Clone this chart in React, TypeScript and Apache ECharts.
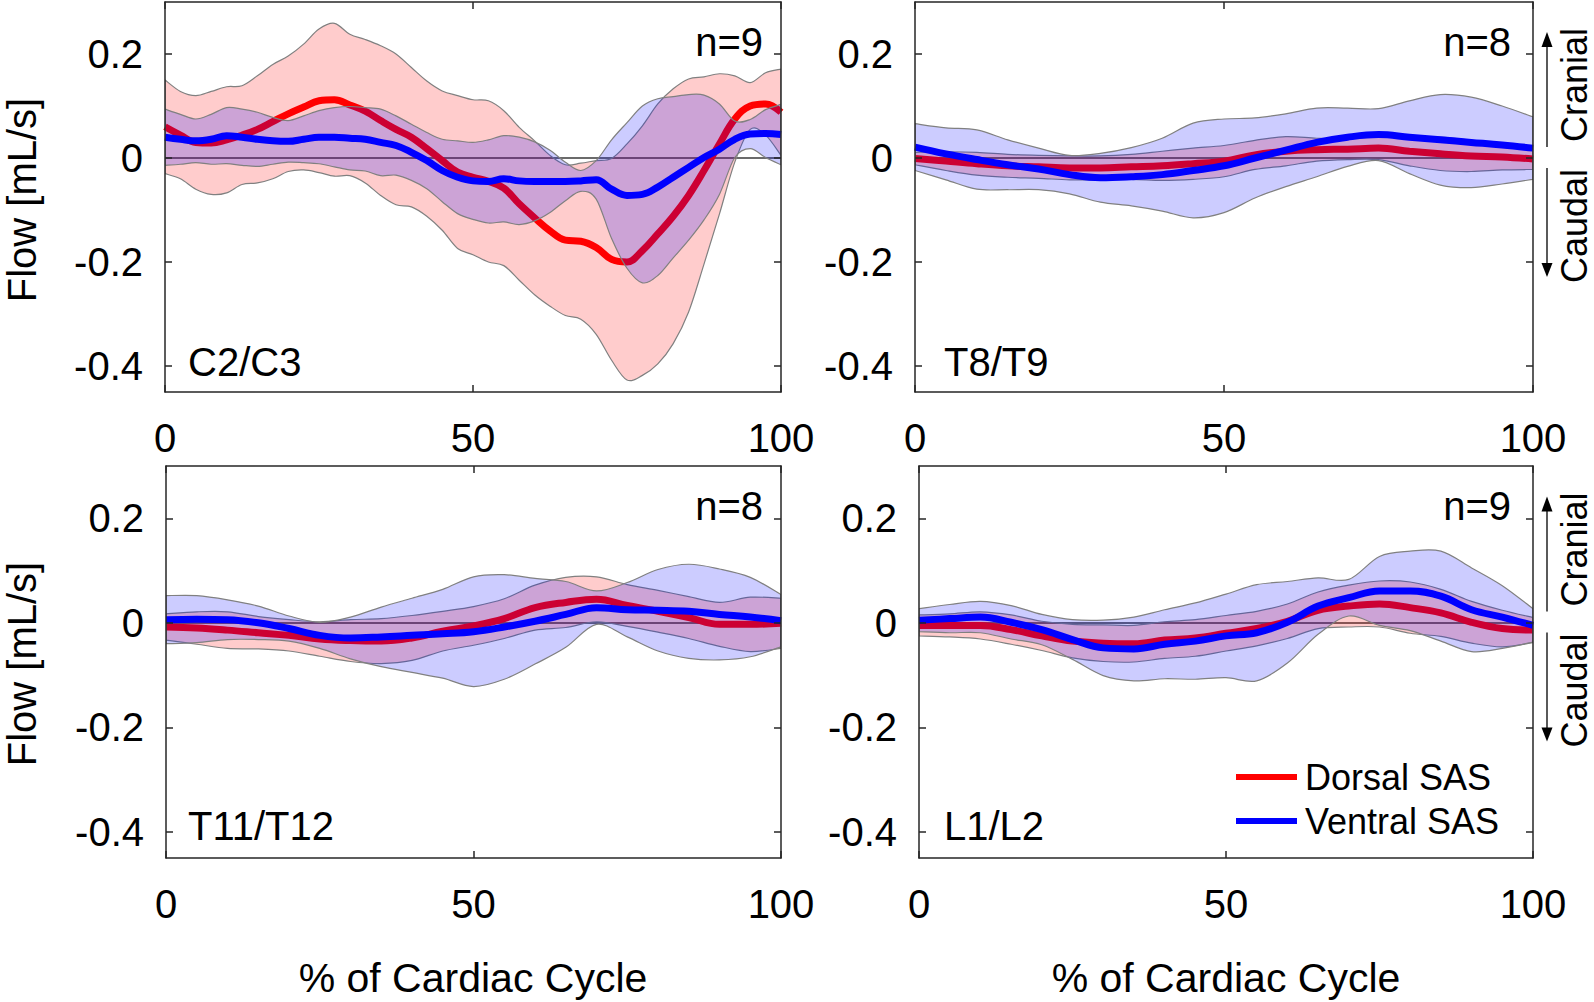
import React, { useEffect, useRef } from 'react';
import * as echarts from 'echarts';

const FONT = '"Liberation Sans", Arial, Helvetica, sans-serif';

// x positions (% of cardiac cycle)
const X_C2C3 = [0, 2.5, 5, 7.5, 10, 12.5, 15, 17.5, 20, 22.5, 25, 27.5, 30, 32.5, 35, 37.5, 40, 42.5, 45, 47.5, 50,
  52.5, 55, 57.5, 60, 62.5, 65, 67.5, 70, 72.5, 75, 77.5, 80, 82.5, 85, 87.5, 90, 92.5, 95, 97.5, 100];
const X_STEP5 = [0, 5, 10, 15, 20, 25, 30, 35, 40, 45, 50, 55, 60, 65, 70, 75, 80, 85, 90, 95, 100];

const Y_TICKS = [-0.4, -0.2, 0, 0.2];

// C2/C3 (mean and SD, mL/s)
const C23_DORSAL_MEAN = [0.060, 0.044, 0.030, 0.029, 0.035, 0.044, 0.055, 0.070, 0.085, 0.098, 0.110, 0.112, 0.102, 0.090,
  0.072, 0.055, 0.040, 0.018, -0.005, -0.027, -0.037, -0.045, -0.058, -0.088, -0.115, -0.140, -0.158, -0.160, -0.172,
  -0.195, -0.200, -0.178, -0.146, -0.112, -0.072, -0.024, 0.027, 0.075, 0.100, 0.104, 0.088];
const C23_DORSAL_SD = [0.090, 0.084, 0.090, 0.099, 0.102, 0.095, 0.103, 0.110, 0.111, 0.121, 0.138, 0.147, 0.136, 0.138,
  0.144, 0.145, 0.134, 0.130, 0.134, 0.147, 0.149, 0.155, 0.149, 0.147, 0.148, 0.145, 0.145, 0.150, 0.167, 0.194, 0.227,
  0.240, 0.250, 0.245, 0.224, 0.180, 0.135, 0.083, 0.045, 0.060, 0.083];
const C23_VENTRAL_MEAN = [0.040, 0.036, 0.033, 0.036, 0.043, 0.040, 0.036, 0.033, 0.032, 0.036, 0.040, 0.040, 0.038, 0.036,
  0.030, 0.024, 0.011, -0.005, -0.024, -0.037, -0.044, -0.045, -0.040, -0.044, -0.045, -0.045, -0.045, -0.044, -0.042,
  -0.060, -0.072, -0.070, -0.056, -0.037, -0.018, 0.001, 0.017, 0.036, 0.046, 0.047, 0.045];
const C23_VENTRAL_SD = [0.054, 0.048, 0.042, 0.048, 0.054, 0.054, 0.052, 0.045, 0.040, 0.045, 0.051, 0.057, 0.061, 0.061,
  0.064, 0.057, 0.054, 0.054, 0.060, 0.070, 0.074, 0.080, 0.083, 0.084, 0.076, 0.060, 0.037, 0.020, 0.037, 0.095, 0.140,
  0.170, 0.170, 0.155, 0.140, 0.120, 0.087, 0.035, 0.028, 0.046, 0.058];

// T8/T9
const T89_DORSAL_MEAN = [-0.001, -0.006, -0.011, -0.015, -0.017, -0.019, -0.019, -0.017, -0.015, -0.011, -0.006, 0.006,
  0.013, 0.016, 0.017, 0.019, 0.013, 0.008, 0.004, 0.002, -0.002];
const T89_DORSAL_SD = [0.012, 0.018, 0.022, 0.022, 0.022, 0.023, 0.023, 0.024, 0.028, 0.030, 0.030, 0.028, 0.028, 0.022,
  0.020, 0.022, 0.028, 0.032, 0.030, 0.025, 0.020];
const T89_VENTRAL_MEAN = [0.021, 0.008, -0.003, -0.013, -0.021, -0.032, -0.038, -0.036, -0.032, -0.024, -0.015, 0.000,
  0.015, 0.030, 0.040, 0.045, 0.040, 0.035, 0.030, 0.025, 0.019];
const T89_VENTRAL_SD = [0.045, 0.050, 0.057, 0.048, 0.040, 0.037, 0.047, 0.056, 0.070, 0.091, 0.090, 0.077, 0.070, 0.066,
  0.056, 0.050, 0.070, 0.087, 0.087, 0.075, 0.060];

// T11/T12
const T1112_DORSAL_MEAN = [-0.008, -0.010, -0.014, -0.019, -0.024, -0.031, -0.034, -0.035, -0.029, -0.016, -0.006, 0.008,
  0.029, 0.039, 0.045, 0.033, 0.022, 0.010, -0.003, -0.003, -0.001];
const T1112_DORSAL_SD = [0.025, 0.031, 0.035, 0.031, 0.030, 0.033, 0.040, 0.043, 0.043, 0.038, 0.037, 0.038, 0.043, 0.048,
  0.043, 0.040, 0.040, 0.040, 0.042, 0.052, 0.048];
const T1112_VENTRAL_MEAN = [0.006, 0.007, 0.006, 0.000, -0.011, -0.024, -0.029, -0.027, -0.024, -0.021, -0.017, -0.008,
  0.003, 0.016, 0.029, 0.025, 0.024, 0.022, 0.016, 0.011, 0.004];
const T1112_VENTRAL_SD = [0.046, 0.045, 0.038, 0.032, 0.024, 0.025, 0.040, 0.057, 0.071, 0.085, 0.105, 0.100, 0.082, 0.063,
  0.032, 0.052, 0.078, 0.090, 0.087, 0.076, 0.050];

// L1/L2
const L12_DORSAL_MEAN = [-0.005, -0.005, -0.005, -0.013, -0.025, -0.035, -0.039, -0.040, -0.033, -0.029, -0.020, -0.011,
  0.003, 0.024, 0.032, 0.036, 0.029, 0.019, 0.001, -0.011, -0.014];
const L12_DORSAL_SD = [0.020, 0.022, 0.026, 0.028, 0.028, 0.032, 0.035, 0.035, 0.035, 0.035, 0.034, 0.033, 0.033, 0.035,
  0.040, 0.044, 0.049, 0.045, 0.040, 0.035, 0.024];
const L12_VENTRAL_MEAN = [0.005, 0.008, 0.011, 0.001, -0.013, -0.032, -0.048, -0.050, -0.041, -0.035, -0.025, -0.019,
  0.001, 0.032, 0.048, 0.061, 0.061, 0.051, 0.025, 0.011, -0.005];
const L12_VENTRAL_SD = [0.022, 0.027, 0.030, 0.032, 0.029, 0.038, 0.053, 0.061, 0.066, 0.073, 0.080, 0.092, 0.078, 0.054,
  0.035, 0.066, 0.076, 0.086, 0.080, 0.060, 0.032];

const LEVEL_LABELS = ['C2/C3', 'T8/T9', 'T11/T12', 'L1/L2'];
const N_LABELS = ['n=9', 'n=8', 'n=8', 'n=9'];
const SERIES_NAMES = ['Dorsal SAS', 'Ventral SAS'];

const PANELS = [
  { x: X_C2C3, dm: C23_DORSAL_MEAN, ds: C23_DORSAL_SD, vm: C23_VENTRAL_MEAN, vs: C23_VENTRAL_SD },
  { x: X_STEP5, dm: T89_DORSAL_MEAN, ds: T89_DORSAL_SD, vm: T89_VENTRAL_MEAN, vs: T89_VENTRAL_SD },
  { x: X_STEP5, dm: T1112_DORSAL_MEAN, ds: T1112_DORSAL_SD, vm: T1112_VENTRAL_MEAN, vs: T1112_VENTRAL_SD },
  { x: X_STEP5, dm: L12_DORSAL_MEAN, ds: L12_DORSAL_SD, vm: L12_VENTRAL_MEAN, vs: L12_VENTRAL_SD },
];

const GRIDS = [
  { left: 165, top: 2, width: 616, height: 390 },
  { left: 915, top: 2, width: 618, height: 390 },
  { left: 166, top: 466, width: 615, height: 392 },
  { left: 919, top: 466, width: 614, height: 392 },
];

const AXIS_COLOR = '#262626';
const EDGE_COLOR = '#808080';
const SMOOTH = 0.4;

// Catmull-Rom spline through already-projected pixel points, as SVG cubic segments.
function splinePath(pts: number[][]): string {
  let d = '';
  const n = pts.length;
  for (let i = 0; i < n - 1; i++) {
    const p0 = pts[Math.max(0, i - 1)];
    const p1 = pts[i];
    const p2 = pts[i + 1];
    const p3 = pts[Math.min(n - 1, i + 2)];
    const c1x = p1[0] + (p2[0] - p0[0]) / 6;
    const c1y = p1[1] + (p2[1] - p0[1]) / 6;
    const c2x = p2[0] - (p3[0] - p1[0]) / 6;
    const c2y = p2[1] - (p3[1] - p1[1]) / 6;
    d += ` C ${c1x.toFixed(2)} ${c1y.toFixed(2)} ${c2x.toFixed(2)} ${c2y.toFixed(2)} ${p2[0].toFixed(2)} ${p2[1].toFixed(2)}`;
  }
  return d;
}

function buildOption() {
  const xAxis: any[] = [];
  const yAxis: any[] = [];
  const series: any[] = [];
  const lineStyle = { color: AXIS_COLOR, width: 1.5 };

  PANELS.forEach((p, i) => {
    const base = {
      type: 'value', gridIndex: i, min: 0, max: 100, interval: 50,
      axisLine: { show: true, onZero: false, lineStyle },
      axisTick: { show: true, inside: true, length: 7, lineStyle },
      splitLine: { show: false },
      z: 10,
    };
    xAxis.push({ ...base, position: 'bottom',
      axisLabel: { fontSize: 40, fontFamily: FONT, color: '#000', margin: 26 } });
    xAxis.push({ ...base, position: 'top', axisLabel: { show: false } });
    const ybase = {
      type: 'value', gridIndex: i, min: -0.45, max: 0.3,
      axisLine: { show: true, onZero: false, lineStyle },
      axisTick: { show: true, inside: true, length: 7, lineStyle, customValues: Y_TICKS },
      splitLine: { show: false },
      z: 10,
    };
    yAxis.push({ ...ybase, position: 'left',
      axisLabel: { customValues: Y_TICKS, formatter: (v: number) => String(v), fontSize: 40,
        fontFamily: FONT, color: '#000', margin: 22 } });
    yAxis.push({ ...ybase, position: 'right', axisLabel: { show: false } });

    const xi = 2 * i;
    const yi = 2 * i;
    const band = (mean: number[], sd: number[], fill: string, z: number) => ({
      type: 'custom', xAxisIndex: xi, yAxisIndex: yi, silent: true, clip: true, z,
      data: [[0, 0]],
      renderItem: (_params: any, api: any) => {
        const up = p.x.map((xx, k) => api.coord([xx, mean[k] + sd[k]]));
        const lo = p.x.map((xx, k) => api.coord([xx, mean[k] - sd[k]])).reverse();
        const d = `M ${up[0][0]} ${up[0][1]}` + splinePath(up) +
          ` L ${lo[0][0]} ${lo[0][1]}` + splinePath(lo) + ' Z';
        return {
          type: 'path',
          shape: { pathData: d },
          style: { fill, stroke: EDGE_COLOR, lineWidth: 1.2 },
        };
      },
    });
    const meanLine = (name: string, mean: number[], color: string, z: number, withZero: boolean) => {
      const s: any = {
        type: 'line', name, xAxisIndex: xi, yAxisIndex: yi, z,
        data: p.x.map((xx, k) => [xx, mean[k]]),
        smooth: SMOOTH, symbol: 'none', silent: true,
        lineStyle: { color, width: 7 }, itemStyle: { color },
      };
      if (withZero) {
        s.markLine = {
          silent: true, z: 0.5, symbol: ['none', 'none'], label: { show: false },
          lineStyle: { color: '#3a3a3a', width: 1.5, type: 'solid' },
          data: [{ yAxis: 0 }],
        };
      }
      return s;
    };
    series.push(band(p.dm, p.ds, 'rgba(255,0,0,0.2)', 1));
    series.push(meanLine(SERIES_NAMES[0], p.dm, '#ff0000', 2, true));
    series.push(band(p.vm, p.vs, 'rgba(0,0,255,0.2)', 3));
    series.push(meanLine(SERIES_NAMES[1], p.vm, '#0000ff', 4, false));
  });

  const txt = (text: string, x: number, y: number, size: number, align: string, rot = 0) => ({
    type: 'text', x, y, rotation: rot, silent: true, z: 100,
    style: { text, fontSize: size, fontFamily: FONT, fill: '#000', align, verticalAlign: 'middle' },
  });

  const elements: any[] = [];
  const labelPos = [[188, 362], [944, 362], [188, 826], [944, 826]];
  const nPos = [[763, 42], [1511, 42], [763, 506], [1511, 506]];
  LEVEL_LABELS.forEach((l, i) => elements.push(txt(l, labelPos[i][0], labelPos[i][1], 40, 'left')));
  N_LABELS.forEach((l, i) => elements.push(txt(l, nPos[i][0], nPos[i][1], 40, 'right')));
  elements.push(txt('Flow [mL/s]', 22, 200, 40, 'center', Math.PI / 2));
  elements.push(txt('Flow [mL/s]', 22, 664, 40, 'center', Math.PI / 2));
  elements.push(txt('% of Cardiac Cycle', 473, 978, 41, 'center'));
  elements.push(txt('% of Cardiac Cycle', 1226, 978, 41, 'center'));
  [0, 464.5].forEach((dy) => {
    const ax = 1547;
    elements.push({ type: 'line', silent: true, shape: { x1: ax, y1: 147 + dy, x2: ax, y2: 44 + dy },
      style: { stroke: '#000', lineWidth: 1.3 } });
    elements.push({ type: 'polygon', silent: true,
      shape: { points: [[ax - 5.5, 47 + dy], [ax + 5.5, 47 + dy], [ax, 32 + dy]] }, style: { fill: '#000' } });
    elements.push({ type: 'line', silent: true, shape: { x1: ax, y1: 168 + dy, x2: ax, y2: 264 + dy },
      style: { stroke: '#000', lineWidth: 1.3 } });
    elements.push({ type: 'polygon', silent: true,
      shape: { points: [[ax - 5.5, 263 + dy], [ax + 5.5, 263 + dy], [ax, 277 + dy]] }, style: { fill: '#000' } });
    elements.push(txt('Cranial', 1574, 85 + dy, 36, 'center', Math.PI / 2));
    elements.push(txt('Caudal', 1574, 226 + dy, 36, 'center', Math.PI / 2));
  });

  return {
    animation: false,
    backgroundColor: '#ffffff',
    textStyle: { fontFamily: FONT },
    grid: GRIDS.map((g) => ({ ...g, containLabel: false })),
    xAxis,
    yAxis,
    series,
    legend: {
      data: SERIES_NAMES, orient: 'vertical', left: 1236, top: 757, padding: 0,
      itemWidth: 61, itemHeight: 6, itemGap: 4, icon: 'rect', selectedMode: false,
      textStyle: { fontSize: 36, fontFamily: FONT, color: '#000', lineHeight: 40, padding: [0, 0, 0, 3] },
    },
    graphic: { elements },
  };
}

export default function App() {
  const ref = useRef<HTMLDivElement>(null);
  useEffect(() => {
    if (!ref.current) return;
    const chart = echarts.init(ref.current, undefined, { renderer: 'svg' });
    chart.setOption(buildOption() as any);
    return () => chart.dispose();
  }, []);
  return (
    <div
      ref={ref}
      style={{ position: 'fixed', left: 0, top: 0, width: 1594, height: 1002, background: '#fff' }}
    />
  );
}
